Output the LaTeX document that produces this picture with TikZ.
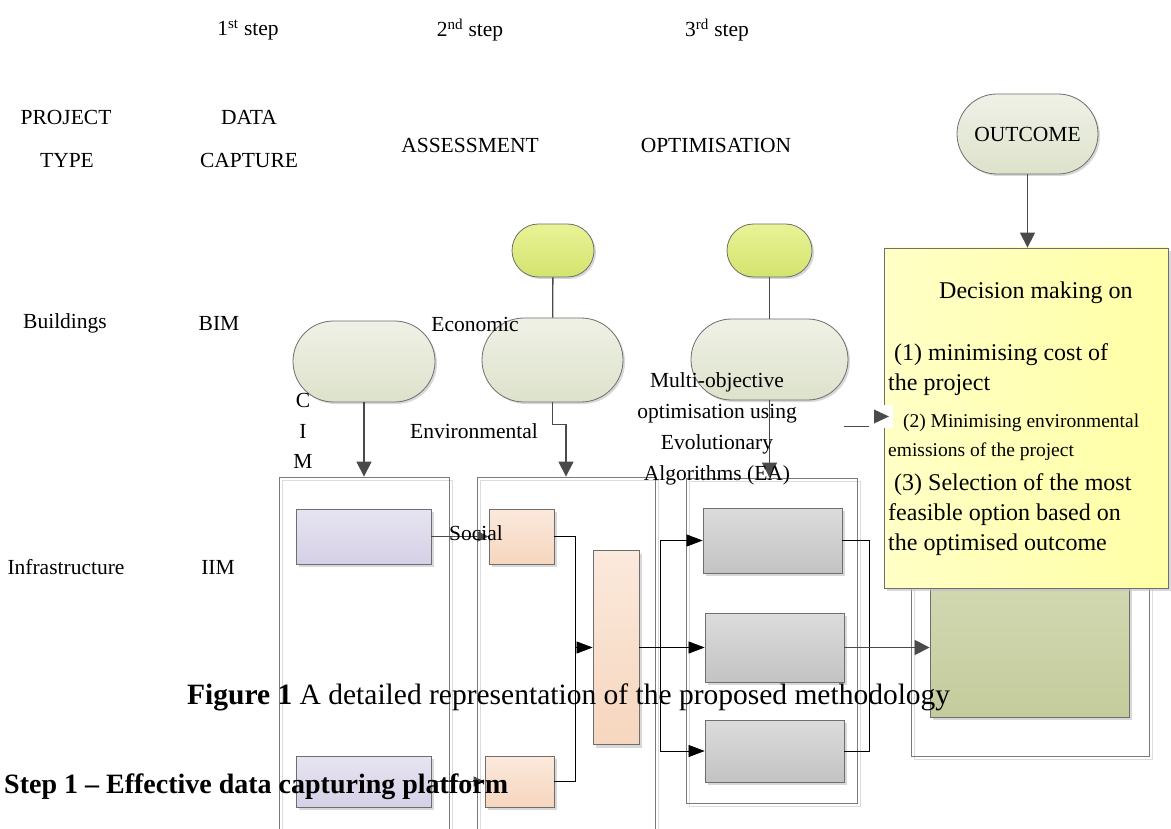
\documentclass[tikz,border=0pt]{standalone}
\usepackage{fontspec}
\setmainfont{Liberation Serif}
\usetikzlibrary{arrows.meta,shapes.misc,shadows}

\definecolor{capTop}{HTML}{EFF1E6}
\definecolor{capBot}{HTML}{DDE2CB}
\definecolor{smTop}{HTML}{E9F396}
\definecolor{smBot}{HTML}{D3E36E}
\definecolor{purTop}{HTML}{E7E4F1}
\definecolor{purBot}{HTML}{D5D0E6}
\definecolor{oraTop}{HTML}{FBE9DC}
\definecolor{oraBot}{HTML}{F6D6BE}
\definecolor{gryTop}{HTML}{DCDCDC}
\definecolor{gryBot}{HTML}{C3C3C3}
\definecolor{grnTop}{HTML}{D2D9B3}
\definecolor{grnBot}{HTML}{C4CC9C}
\definecolor{yelL}{HTML}{FFFFC6}
\definecolor{yelR}{HTML}{FFFFA6}
\definecolor{edge}{HTML}{6E6E6E}
\definecolor{cont}{HTML}{7A7A7A}
\definecolor{agray}{HTML}{4A4A4A}

\tikzset{
  lbl/.style={font=\fontsize{21.5}{26}\selectfont, inner sep=0pt},
  ytxt/.style={font=\fontsize{24}{28}\selectfont, inner sep=0pt, anchor=west},
  ysmall/.style={font=\fontsize{19.5}{24}\selectfont, inner sep=0pt, anchor=west},
  container/.style={draw=cont, line width=0.8pt,
    drop shadow={shadow xshift=3.5pt, shadow yshift=-3.5pt, fill=none, draw=black!14, line width=1pt, opacity=1}},
  capsule/.style={rounded rectangle, draw=edge, line width=0.8pt, inner sep=0pt,
    top color=capTop, bottom color=capBot,
    drop shadow={shadow xshift=2pt, shadow yshift=-2pt, fill=black!30, opacity=0.5}},
  smallcap/.style={capsule, top color=smTop, bottom color=smBot},
  boxbase/.style={rectangle, draw=edge, line width=0.8pt, inner sep=0pt,
    drop shadow={shadow xshift=3pt, shadow yshift=-3pt, fill=black!25, opacity=0.6}},
  purbox/.style={boxbase, top color=purTop, bottom color=purBot},
  orabox/.style={boxbase, top color=oraTop, bottom color=oraBot},
  grybox/.style={boxbase, top color=gryTop, bottom color=gryBot},
  grnbox/.style={boxbase, top color=grnTop, bottom color=grnBot},
  yelbox/.style={rectangle, draw=edge, line width=0.8pt, inner sep=0pt,
    left color=yelL, right color=yelR,
    drop shadow={shadow xshift=3pt, shadow yshift=-3pt, fill=black!25, opacity=0.6}},
  gline/.style={draw=agray, line width=1.3pt},
  garrow/.style={gline, -{Triangle[length=15pt,width=15pt]}},
  sarrow/.style={draw=agray, line width=1.1pt, -{Triangle[length=11pt,width=10pt]}},
  cline/.style={draw=black, line width=0.7pt},
  carrow/.style={cline, -{Triangle[length=16pt,width=12pt]}},
}

\begin{document}
\begin{tikzpicture}[x=1pt,y=-1pt]
\useasboundingbox (0,0) rectangle (1171,829);
\fill[white] (0,0) rectangle (1171,829);

% containers
\node[container, minimum width=170pt, minimum height=362pt] (c1) at (364,658) {};
\node[container, minimum width=178pt, minimum height=362pt] (c2) at (566,658) {};
\node[container, minimum width=171pt, minimum height=325pt] (c3) at (771.5,640.5) {};
\node[container, minimum width=238pt, minimum height=290pt] (c4) at (1030,611) {};

% capsules
\node[smallcap, minimum width=82pt, minimum height=53pt] (s2) at (553,250.5) {};
\node[smallcap, minimum width=85pt, minimum height=53pt] (s3) at (769.5,250.5) {};
\node[capsule, minimum width=142pt, minimum height=81pt] (cap1) at (364,361.5) {};
\node[capsule, minimum width=141pt, minimum height=84pt] (cap2) at (552.5,360) {};
\node[capsule, minimum width=157pt, minimum height=81pt] (cap3) at (769.5,359.5) {};
\node[capsule, minimum width=141pt, minimum height=80pt, font=\fontsize{21.5}{26}\selectfont] (outc) at (1027.5,134) {OUTCOME};

% boxes
\node[purbox, minimum width=135pt, minimum height=55pt] (p1) at (363.5,536.5) {};
\node[purbox, minimum width=135pt, minimum height=51pt] (p2) at (363.5,781.5) {};
\node[orabox, minimum width=65pt, minimum height=55pt] (o1) at (521.5,536.5) {};
\node[orabox, minimum width=69pt, minimum height=51pt] (o2) at (519.5,781.5) {};
\node[orabox, minimum width=46pt, minimum height=194pt] (ot) at (616,647.5) {};
\node[grybox, minimum width=139pt, minimum height=65pt] (g1) at (772.5,540.5) {};
\node[grybox, minimum width=139pt, minimum height=69pt] (g2) at (774.5,647.5) {};
\node[grybox, minimum width=139pt, minimum height=62pt] (g3) at (774.5,751) {};
\node[grnbox, minimum width=199pt, minimum height=139pt] (gr) at (1029.5,647.5) {};

% connectors from capsules
\draw[gline] (s2) -- (cap2);
\draw[gline] (s3) -- (cap3);
\draw[garrow] (cap1.south) -- (cap1.south |- c1.north);
\draw[garrow] (cap2.south) -- ++(0,22) -| (c2.north);
\draw[garrow] (cap3.south) -- (cap3.south |- c3.north);

% inner connectors
\coordinate (ja) at (575,0);
\coordinate (jb) at (660,0);
\coordinate (jc) at (869,0);
\draw[sarrow] (p1.east) -- (o1.west);
\draw[sarrow] (p2.east) -- (o2.west);
\draw[cline] (o1.east) -- (o1.east -| ja) |- (o2.east);
\draw[carrow] (ja |- ot.west) -- (ot.west);
\draw[carrow] (ot.east) -- (g2.west);
\draw[cline] (jb |- g1.west) -- (jb |- g3.west);
\draw[carrow] (jb |- g1.west) -- (g1.west);
\draw[carrow] (jb |- g3.west) -- (g3.west);
\draw[cline] (g1.east) -- (g1.east -| jc) |- (g3.east);
\draw[garrow, line width=1.2pt] (g2.east) -- (gr.west);

% yellow decision box
\node[yelbox, minimum width=284pt, minimum height=340pt] (yb) at (1026,418) {};
\draw[garrow] (outc.south) -- (outc.south |- yb.north);

% small arrow at (2)
\coordinate (ea) at (844,426);
\coordinate (eb) at (869,426);
\draw[gline, line width=1pt] (ea) -- (eb);
\node[fill=white, minimum width=23pt, minimum height=23pt, inner sep=0pt] (ah) at (881,416.5) {};
\fill[agray] (ah.center) ++(-7,-7) -- ++(15,7) -- ++(-15,7) -- cycle;

% top labels
\node[lbl] (st1) at (248,30) {1\textsuperscript{st} step};
\node[lbl] (st2) at (470,30) {2\textsuperscript{nd} step};
\node[lbl] (st3) at (717,30) {3\textsuperscript{rd} step};
\node[lbl] (pt1) at (66,117) {PROJECT};
\node[lbl] (pt2) at (67,160) {TYPE};
\node[lbl] (dc1) at (249,117) {DATA};
\node[lbl] (dc2) at (249,160) {CAPTURE};
\node[lbl] (asm) at (470,145) {ASSESSMENT};
\node[lbl] (opt) at (716,145) {OPTIMISATION};

% row labels
\node[lbl] (bld) at (65,323) {Buildings};
\node[lbl] (bim) at (219,323) {BIM};
\node[lbl] (inf) at (66,567) {Infrastructure};
\node[lbl] (iim) at (218,567) {IIM};

% overlay labels
\node[lbl] (eco) at (475,324) {Economic};
\node[lbl, align=center, font=\fontsize{21.5}{30.5}\selectfont] (cim) at (303,431) {C\\I\\M};
\node[lbl] (env) at (474,431) {Environmental};
\node[lbl] (soc) at (476,533) {Social};
\node[lbl, align=center, font=\fontsize{21.5}{31}\selectfont] (moo) at (717,428.5)
  {Multi-objective\\optimisation using\\Evolutionary\\Algorithms (EA)};

% decision text
\node[ytxt] (d0) at (939,293) {Decision making on};
\node[ytxt] (d1) at (888,355) {\ (1) minimising cost of};
\node[ytxt] (d1b) at (888,385) {the project};
\node[ysmall] (d2) at (898,423) {\ (2) Minimising environmental};
\node[ysmall] (d2b) at (888,452) {emissions of the project};
\node[ytxt] (d3) at (888,485) {\ (3) Selection of the most};
\node[ytxt] (d3b) at (888,515) {feasible option based on};
\node[ytxt] (d3c) at (888,545) {the optimised outcome};

% caption and heading
\node[inner sep=0pt, anchor=west, font=\fontsize{29.5}{34}\selectfont] (cap) at (187,697)
  {\textbf{Figure 1} A detailed representation of the proposed methodology};
\node[inner sep=0pt, anchor=west, font=\fontsize{28}{32}\selectfont\bfseries] (stp) at (4,787)
  {Step 1 – Effective data capturing platform};
\end{tikzpicture}
\end{document}
